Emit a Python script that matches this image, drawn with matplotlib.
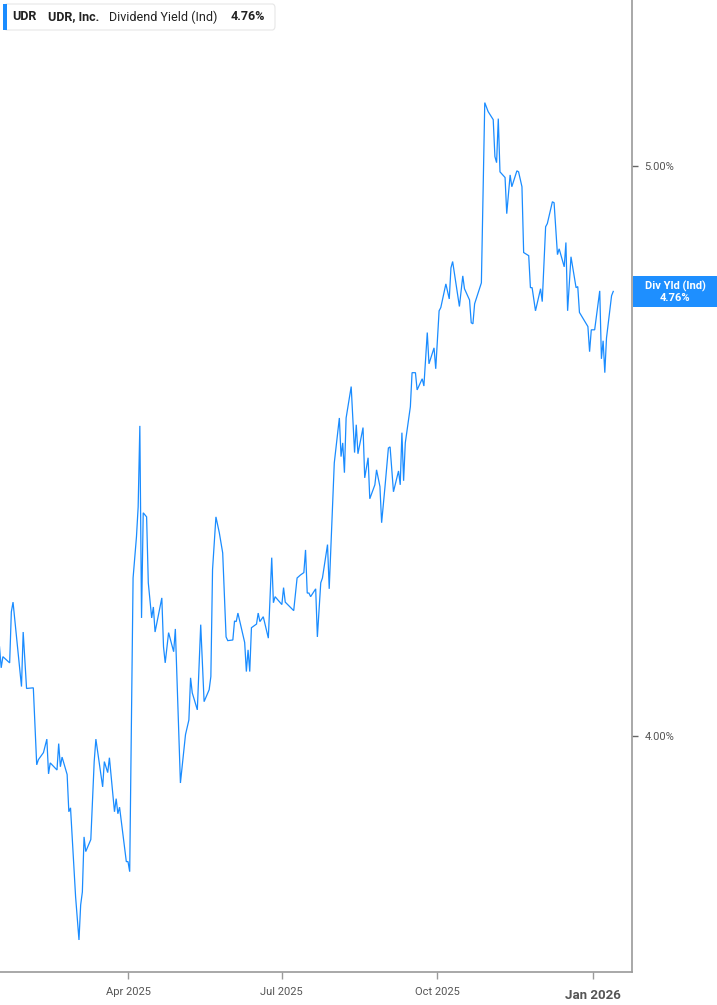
import matplotlib
matplotlib.use("Agg")
import matplotlib.pyplot as plt
import matplotlib.dates as mdates
from matplotlib.patches import FancyBboxPatch, Rectangle
from matplotlib.ticker import FixedLocator, NullLocator, FuncFormatter
import pandas as pd

plt.rcParams['font.family'] = ['Roboto', 'DejaVu Sans']

dates = [
    "2025-01-15", "2025-01-16", "2025-01-17", "2025-01-21", "2025-01-22", "2025-01-23",
    "2025-01-28", "2025-01-29", "2025-01-31", "2025-02-04", "2025-02-06", "2025-02-07",
    "2025-02-10", "2025-02-12", "2025-02-13", "2025-02-14", "2025-02-18", "2025-02-19",
    "2025-02-20", "2025-02-21", "2025-02-24", "2025-02-25", "2025-02-26", "2025-03-01",
    "2025-03-03", "2025-03-04", "2025-03-05", "2025-03-06", "2025-03-07", "2025-03-10",
    "2025-03-12", "2025-03-13", "2025-03-17", "2025-03-18", "2025-03-20", "2025-03-21",
    "2025-03-24", "2025-03-25", "2025-03-26", "2025-03-27", "2025-03-31", "2025-04-01",
    "2025-04-02", "2025-04-04", "2025-04-06", "2025-04-07", "2025-04-08", "2025-04-09",
    "2025-04-10", "2025-04-12", "2025-04-13", "2025-04-15", "2025-04-16", "2025-04-17",
    "2025-04-21", "2025-04-22", "2025-04-23", "2025-04-25", "2025-04-28", "2025-04-29",
    "2025-05-02", "2025-05-05", "2025-05-07", "2025-05-08", "2025-05-09", "2025-05-12",
    "2025-05-14", "2025-05-16", "2025-05-19", "2025-05-20", "2025-05-21", "2025-05-23",
    "2025-05-25", "2025-05-27", "2025-05-29", "2025-05-30", "2025-06-02", "2025-06-03",
    "2025-06-04", "2025-06-05", "2025-06-09", "2025-06-10", "2025-06-11", "2025-06-12",
    "2025-06-13", "2025-06-16", "2025-06-17", "2025-06-18", "2025-06-20", "2025-06-23",
    "2025-06-25", "2025-06-26", "2025-06-27", "2025-07-01", "2025-07-02", "2025-07-03",
    "2025-07-08", "2025-07-10", "2025-07-12", "2025-07-14", "2025-07-15", "2025-07-16",
    "2025-07-17", "2025-07-18", "2025-07-21", "2025-07-22", "2025-07-24", "2025-07-25",
    "2025-07-28", "2025-07-29", "2025-08-01", "2025-08-04", "2025-08-05", "2025-08-06",
    "2025-08-07", "2025-08-08", "2025-08-11", "2025-08-13", "2025-08-14", "2025-08-15",
    "2025-08-18", "2025-08-19", "2025-08-21", "2025-08-22", "2025-08-25", "2025-08-26",
    "2025-08-28", "2025-08-29", "2025-08-31", "2025-09-02", "2025-09-03", "2025-09-05",
    "2025-09-08", "2025-09-09", "2025-09-10", "2025-09-11", "2025-09-12", "2025-09-15",
    "2025-09-16", "2025-09-18", "2025-09-19", "2025-09-22", "2025-09-23", "2025-09-25",
    "2025-09-26", "2025-09-29", "2025-09-30", "2025-10-02", "2025-10-03", "2025-10-06",
    "2025-10-08", "2025-10-09", "2025-10-10", "2025-10-14", "2025-10-16", "2025-10-17",
    "2025-10-20", "2025-10-21", "2025-10-22", "2025-10-23", "2025-10-27", "2025-10-29",
    "2025-10-31", "2025-11-03", "2025-11-04", "2025-11-05", "2025-11-06", "2025-11-07",
    "2025-11-10", "2025-11-11", "2025-11-13", "2025-11-14", "2025-11-17", "2025-11-18",
    "2025-11-20", "2025-11-21", "2025-11-24", "2025-11-25", "2025-11-26", "2025-11-28",
    "2025-12-01", "2025-12-02", "2025-12-04", "2025-12-05", "2025-12-08", "2025-12-09",
    "2025-12-11", "2025-12-12", "2025-12-15", "2025-12-16", "2025-12-17", "2025-12-19",
    "2025-12-22", "2025-12-23", "2025-12-24", "2025-12-29", "2025-12-30", "2025-12-31",
    "2026-01-02", "2026-01-05", "2026-01-06", "2026-01-07", "2026-01-08", "2026-01-09",
    "2026-01-12", "2026-01-13",
]

div_yield = [
    4.142, 4.108, 4.126, 4.116, 4.199, 4.215,
    4.078, 4.166, 4.075, 4.076, 3.955, 3.963,
    3.974, 3.995, 3.941, 3.958, 3.947, 3.988,
    3.952, 3.967, 3.940, 3.883, 3.889, 3.756,
    3.693, 3.744, 3.763, 3.845, 3.823, 3.841,
    3.960, 3.995, 3.921, 3.960, 3.943, 3.966,
    3.883, 3.903, 3.880, 3.890, 3.808, 3.808,
    3.793, 4.255, 4.324, 4.375, 4.516, 4.189,
    4.365, 4.358, 4.247, 4.189, 4.207, 4.166,
    4.222, 4.142, 4.116, 4.165, 4.134, 4.171,
    3.927, 4.002, 4.025, 4.092, 4.068, 4.041,
    4.178, 4.054, 4.073, 4.094, 4.269, 4.358,
    4.331, 4.297, 4.158, 4.152, 4.153, 4.184,
    4.183, 4.197, 4.149, 4.102, 4.137, 4.102,
    4.173, 4.179, 4.197, 4.183, 4.191, 4.156,
    4.289, 4.214, 4.224, 4.211, 4.239, 4.215,
    4.201, 4.255, 4.260, 4.264, 4.302, 4.230,
    4.230, 4.224, 4.237, 4.158, 4.247, 4.255,
    4.311, 4.237, 4.451, 4.530, 4.462, 4.486,
    4.434, 4.530, 4.586, 4.469, 4.518, 4.467,
    4.513, 4.425, 4.460, 4.389, 4.413, 4.439,
    4.410, 4.348, 4.410, 4.477, 4.479, 4.401,
    4.437, 4.413, 4.504, 4.420, 4.486, 4.550,
    4.611, 4.611, 4.580, 4.600, 4.587, 4.684,
    4.627, 4.656, 4.618, 4.724, 4.730, 4.774,
    4.746, 4.804, 4.816, 4.732, 4.789, 4.765,
    4.744, 4.702, 4.700, 4.737, 4.776, 5.125,
    5.107, 5.091, 5.018, 5.006, 5.093, 4.988,
    4.977, 4.907, 4.982, 4.959, 4.990, 4.988,
    4.959, 4.833, 4.827, 4.767, 4.767, 4.724,
    4.765, 4.741, 4.882, 4.888, 4.930, 4.928,
    4.829, 4.840, 4.806, 4.852, 4.724, 4.825,
    4.767, 4.769, 4.721, 4.695, 4.649, 4.689,
    4.689, 4.761, 4.636, 4.669, 4.611, 4.674,
    4.752, 4.760,
]

x_tick_dates = ["2025-04-01", "2025-07-01", "2025-10-01", "2026-01-01"]
x_tick_labels = ["Apr 2025", "Jul 2025", "Oct 2025", "Jan 2026"]
y_ticks = [4.0, 5.0]
y_tick_labels = ["4.00%", "5.00%"]

ticker_symbol = "UDR"
company = "UDR, Inc."
metric = "Dividend Yield (Ind)"
last_label = "4.76%"
tag_title = "Div Yld (Ind)"

line_color = "#1a8cff"
axis_gray = "#9a9a9a"
text_gray = "#555555"

W, H = 717, 1005
fig = plt.figure(figsize=(W / 100, H / 100), dpi=100)
ax = fig.add_axes([0, 33 / H, 632 / W, 1 - 33 / H])

x = pd.to_datetime(dates)
ax.plot(x, div_yield, color=line_color, linewidth=0.9, solid_joinstyle='miter')

ax.set_yscale('log')
ax.set_ylim(3.647, 5.335)
ax.set_xlim(pd.Timestamp("2025-01-15 07:00"), pd.Timestamp("2026-01-24 02:00"))

for s in ['left', 'top']:
    ax.spines[s].set_visible(False)
for s in ['right', 'bottom']:
    ax.spines[s].set_color(axis_gray)
    ax.spines[s].set_linewidth(1.2)

ax.yaxis.tick_right()
ax.yaxis.set_major_locator(FixedLocator(y_ticks))
ax.yaxis.set_minor_locator(NullLocator())
ax.set_yticklabels(y_tick_labels)
ax.tick_params(axis='y', which='major', direction='out', length=4, width=1,
               color='#666666', labelcolor=text_gray, labelsize=8, pad=5)

ax.xaxis.set_major_locator(FixedLocator(mdates.date2num(pd.to_datetime(x_tick_dates))))
ax.xaxis.set_minor_locator(NullLocator())
ax.set_xticklabels(x_tick_labels)
ax.tick_params(axis='x', which='major', direction='out', length=5, width=1,
               color=axis_gray, labelcolor=text_gray, labelsize=8, pad=6)
for lbl in ax.get_xticklabels():
    if lbl.get_text().startswith("Jan"):
        lbl.set_fontweight('bold')
        lbl.set_fontsize(9.5)
        lbl.set_y(-0.002)

# legend box (top-left)
fig.patches.append(FancyBboxPatch((4 / W, 1 - 30 / H), 271 / W, 26 / H,
                                  boxstyle="round,pad=0,rounding_size=0.004",
                                  transform=fig.transFigure, facecolor='white',
                                  edgecolor='#e6e6e6', linewidth=0.8, zorder=5))
fig.patches.append(Rectangle((3 / W, 1 - 30 / H), 3.5 / W, 26 / H,
                             transform=fig.transFigure, facecolor=line_color,
                             edgecolor='none', zorder=6))
ty = 1 - 17 / H
fig.text(12 / W, ty, ticker_symbol, fontsize=9, fontweight='bold', color='#222222',
         va='center', ha='left', zorder=7)
fig.text(48 / W, ty, company, fontsize=9, fontweight='bold', color='#222222',
         va='center', ha='left', zorder=7)
fig.text(109 / W, ty, metric, fontsize=9, color='#222222',
         va='center', ha='left', zorder=7)
fig.text(231 / W, ty, last_label, fontsize=9, fontweight='bold', color='#222222',
         va='center', ha='left', zorder=7)

# right-side value tag
fig.patches.append(Rectangle((633 / W, 1 - 307 / H), 84 / W, 31 / H,
                             transform=fig.transFigure, facecolor='#1e8fff',
                             edgecolor='none', zorder=5))
fig.text(675 / W, 1 - 286 / H, tag_title, fontsize=8, fontweight='bold', color='white',
         va='center', ha='center', zorder=6)
fig.text(675 / W, 1 - 298 / H, last_label, fontsize=8, fontweight='bold', color='white',
         va='center', ha='center', zorder=6)

fig.savefig("out.png", dpi=100, facecolor='white')
